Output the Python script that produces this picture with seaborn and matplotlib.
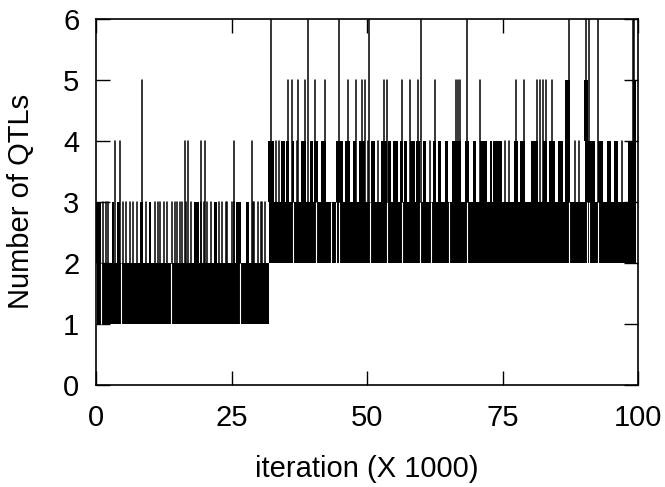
import numpy as np
import pandas as pd
import matplotlib
matplotlib.use("Agg")
import matplotlib.pyplot as plt
import seaborn as sns

# ---------------- data (iteration in thousands, number of QTLs) ----------------
# densely alternating bands of the MCMC trace
band_start = [0.25, 31.9]
band_end = [31.9, 99.7]
band_low = [1, 2]
band_high = [2, 3]
# thin white gaps inside the dense bands
band_gaps = [0.9, 4.7, 13.9, 26.6, 36.3, 40.5, 43.3, 44.3, 44.8, 50.5, 53.6,
             56.5, 59.8, 61.9, 65.2, 68.4, 87.3, 90.5, 91.0, 92.7]

# dense excursions above the band
blk_start = [0.0, 3.0, 3.8, 8.1, 9.7, 18.1, 21.8, 25.8, 27.6,
             31.8, 34.2, 35.1, 36.2, 37.9, 39.4, 40.3, 41.6, 44.3, 45.9, 47.4,
             48.5, 50.8, 52.6, 53.9, 54.8, 56.0, 56.9, 58.0, 59.1, 60.3, 62.2,
             63.1, 64.3, 65.6, 68.1, 69.6, 70.9, 72.7, 73.3, 77.2, 78.2, 80.3,
             82.4, 83.5, 85.3, 86.5, 90.2, 92.7, 94.2, 95.5, 98.2,
             86.5, 90.1, 99.1]
blk_end = [0.9, 3.4, 4.5, 8.7, 10.2, 19.0, 22.4, 26.7, 28.2,
           32.8, 34.8, 35.7, 36.6, 38.8, 40.0, 40.9, 42.5, 45.6, 46.8, 48.0,
           49.6, 51.4, 53.6, 54.4, 55.7, 56.6, 57.4, 58.8, 59.7, 60.9, 62.8,
           63.7, 64.9, 67.3, 68.8, 70.2, 72.1, 73.0, 74.9, 77.9, 79.2, 81.6,
           83.2, 84.7, 86.2, 87.5, 92.1, 93.6, 95.1, 96.4, 99.7,
           87.5, 90.8, 99.7]
blk_low = [2] * 9 + [3] * 42 + [4] * 3
blk_high = [3] * 9 + [4] * 42 + [5] * 3

# single excursions (vertical spikes) reaching each level
spikes_3 = [1.35, 1.8, 2.3, 5.0, 5.5, 6.2, 6.8, 7.5, 9.2, 10.8, 11.4, 11.9,
            12.5, 13.1, 14.1, 14.5, 15.0, 15.5, 15.9, 16.6, 17.6, 19.3, 19.9,
            20.5, 21.3, 22.7, 23.3, 23.9, 24.1, 25.1, 25.5, 28.9, 29.2, 29.8,
            30.4, 30.7, 31.2]
spikes_4 = [3.5, 4.4, 16.4, 16.9, 19.4, 20.2, 25.5, 28.7,
            33.3, 33.7, 37.1, 50.2, 52.0, 61.6, 75.5, 76.2, 88.3, 89.2, 97.1]
spikes_5 = [8.4, 35.4, 36.2, 37.3, 38.6, 40.4, 42.3, 46.5, 47.9, 49.0, 49.6,
            53.1, 53.6, 56.4, 58.0, 59.5, 62.5, 66.4, 66.8, 67.2, 70.8, 77.5,
            79.0, 81.3, 82.0, 82.4, 83.1, 84.1]
spikes_6 = [32.3, 39.1, 44.8, 50.3, 59.9, 68.4, 87.3, 90.4, 91.0, 92.7,
            99.0, 99.3]

x_ticks = [0, 25, 50, 75, 100]
y_ticks = [0, 1, 2, 3, 4, 5, 6]
x_label = "iteration (X 1000)"
y_label = "Number of QTLs"

# ---------------- style ----------------
sns.set_theme(style="ticks")
plt.rcParams["font.family"] = ["Liberation Sans", "DejaVu Sans"]
plt.rcParams["axes.linewidth"] = 1.2
plt.rcParams["text.color"] = "black"
plt.rcParams["axes.labelcolor"] = "black"
plt.rcParams["xtick.color"] = "black"
plt.rcParams["ytick.color"] = "black"

fig = plt.figure(figsize=(6.65, 4.87), dpi=100)
ax = fig.add_axes([96 / 665, 102 / 487, 542 / 665, 366.5 / 487])


def band_top(x):
    for s, e, h in zip(band_start, band_end, band_high):
        if s <= x <= e:
            return h
    return band_high[-1]


# dense bands
for s, e, lo, hi in zip(band_start, band_end, band_low, band_high):
    ax.fill_between([s, e], [lo, lo], [hi, hi], color="black", lw=0)

# dense excursion blocks
for s, e, lo, hi in zip(blk_start, blk_end, blk_low, blk_high):
    ax.fill_between([s, e], [lo, lo], [hi, hi], color="black", lw=0)

# white gaps in bands
for g in band_gaps:
    for s, e, lo, hi in zip(band_start, band_end, band_low, band_high):
        if s <= g <= e:
            ax.vlines(g, lo, hi, color="white", lw=0.8)

# spikes as a long-form table drawn by seaborn
rows = []
sid = 0
for lvl, xs in [(3, spikes_3), (4, spikes_4), (5, spikes_5), (6, spikes_6)]:
    for x in xs:
        base = band_top(x)
        rows.append((x, base, sid))
        rows.append((x, lvl, sid))
        sid += 1
df = pd.DataFrame(rows, columns=["x", "y", "seg"])
sns.lineplot(data=df, x="x", y="y", units="seg", estimator=None, sort=False,
             color="black", lw=1.1, ax=ax, legend=False)

ax.set_xlim(0, 100)
ax.set_ylim(0, 6)
ax.set_xticks(x_ticks)
ax.set_yticks(y_ticks)
ax.tick_params(direction="in", length=10, width=1.0, top=True, right=True,
               labelsize=21, colors="black", labelcolor="black", pad=12)
ax.tick_params(axis="x", pad=14)
for sp in ax.spines.values():
    sp.set_visible(True)
    sp.set_color("black")
ax.set_xlabel(x_label, fontsize=21, labelpad=16, color="black")
ax.set_ylabel(y_label, fontsize=21, labelpad=20, color="black")

fig.savefig("out.png", dpi=100)
